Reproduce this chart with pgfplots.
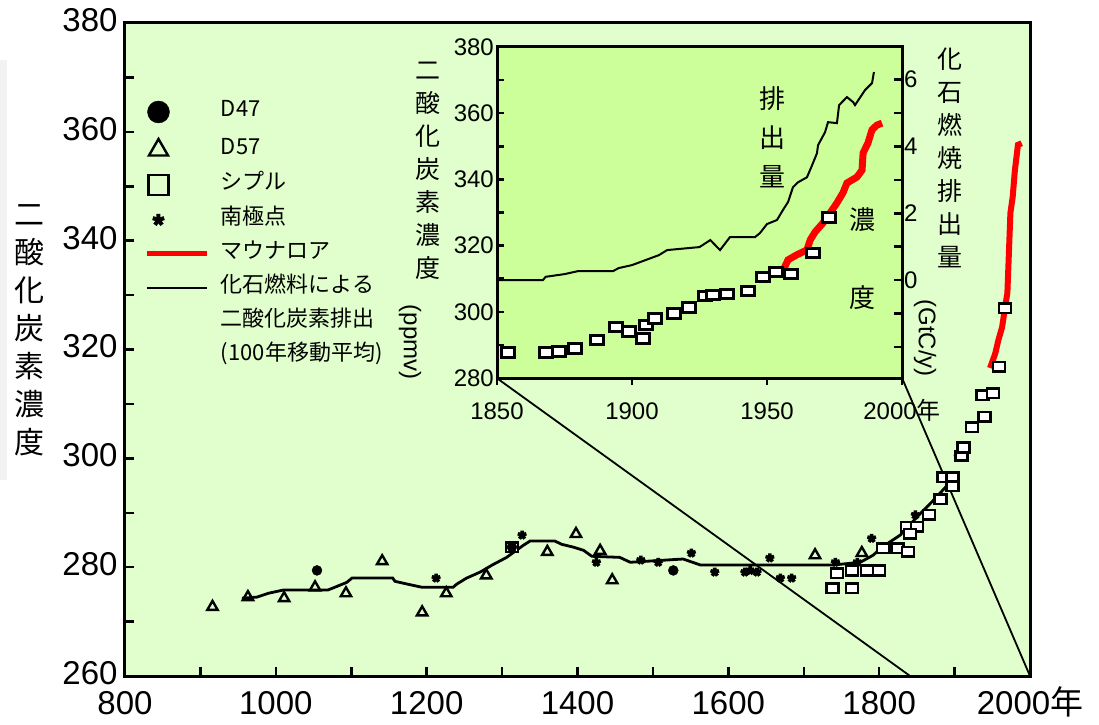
\documentclass[border=0pt]{standalone}
\usepackage{pgfplots}
\pgfplotsset{compat=1.18}
\usepackage{fontspec}
\setmainfont{Liberation Sans}
\newfontfamily\jp{Noto Sans CJK JP}
\definecolor{maingreen}{RGB}{224,255,204}
\definecolor{insetgreen}{RGB}{204,255,153}
\pgfplotsset{
  markleg/.style={legend image code/.code={\draw[##1] plot coordinates {(11pt,0pt)};}},
  lineleg/.style={legend image code/.code={\draw[##1] (0pt,0pt) -- (60pt,0pt);}},
}
\begin{document}
\begin{tikzpicture}
\useasboundingbox (-125pt,-48pt) rectangle (974pt,676pt);
\fill[black!5] (-125pt,196pt) rectangle (-118pt,616pt);
% ---------------- main axis ----------------
\begin{axis}[
  at={(0pt,0pt)}, anchor=south west, scale only axis,
  width=905pt, height=653pt,
  xmin=800, xmax=2000, ymin=260, ymax=380,
  axis background/.style={fill=maingreen},
  axis line style={line width=3pt},
  tick pos=left, tick align=inside,
  major tick length=9pt, minor tick length=9pt,
  every major tick/.style={black, line width=2.5pt},
  every minor tick/.style={black, line width=2.5pt},
  xtick={800,1000,...,2000}, minor xtick={900,1100,...,1900},
  xticklabels={800,1000,1200,1400,1600,1800,{2000{\jp 年}}},
  ytick={260,280,...,380}, minor ytick={270,290,...,370},
  yticklabels={260,280,300,320,340,360,380},
  tick label style={font=\fontsize{33}{36}\selectfont},
  xticklabel style={anchor=base, yshift=-38pt},
  yticklabel style={yshift=3pt, xshift=-4pt},
  legend cell align=left,
  legend style={at={(0.0221,0.8806)}, anchor=north west, draw=none, fill=none,
    inner sep=0pt, outer sep=0pt, row sep=16pt,
    nodes={inner sep=0pt, text height=14pt, text depth=4pt, font=\jp\fontsize{22}{22}\selectfont},
    /tikz/every odd column/.style={column sep=11pt}},
]
% zoom lines
\addplot[black, line width=1.8pt, forget plot] coordinates {(1293.4,314.7) (1841,260)};
\addplot[black, line width=1.8pt, forget plot] coordinates {(1830.5,314.7) (2000,260)};
% 100-year moving average line
\addplot[black, line width=2.8pt, forget plot] coordinates {
(955,274.3)(975,274.5)(990,275.2)(1010,275.8)(1069,275.8)(1078,276.3)(1094,277.2)
(1101,278)(1155,278)(1158,277.4)(1174,276.9)(1194,276.3)(1235,276.3)(1240,276.9)
(1253,278)(1271,279.1)(1287,280.4)(1306,281.8)(1328,284)(1337,284.8)(1370,284.8)
(1379,284.2)(1394,283.7)(1408,283.1)(1419,282)(1456,281.8)(1470,280.9)(1540,281.5)
(1563,280.4)(1739,280.4)(1775,280.9)(1792,282.2)(1804,283.7)(1828,285.9)(1850,289.2)
(1872,292.3)(1888,294.7)(1900,297)};
% Mauna Loa
\addplot[red, line width=6pt, forget plot] coordinates {
(1947,316.6)(1954,319.3)(1958,321.7)(1963,324.1)(1967,327.8)(1970,330.4)(1972,337.7)
(1974,345.1)(1977,348)(1980,353)(1984,357.6)(1989,357.9)};
% D57 triangles
\addplot[only marks, mark=triangle, mark size=6pt, mark options={black, line width=2.4pt}, forget plot] coordinates {
(916,272.7)(963,274.5)(1011,274.3)(1052,276.3)(1093,275.2)(1141,281.1)(1194,271.7)
(1226,275.2)(1279,278.5)(1360,282.8)(1398,286.1)(1430,283)(1446,277.6)(1715,282.2)(1777,282.6)};
% South Pole
\addplot[only marks, mark=star, mark size=4.5pt, mark options={black, line width=3.6pt}, forget plot] coordinates {
(1212.5,278)(1326.5,285.9)(1425,280.9)(1484,281.3)(1507,280.9)(1551,282.6)(1582,279.1)
(1622,279.1)(1629,279.4)(1638,279.1)(1655,281.7)(1669,278)(1684,278)(1742,280.9)
(1771,280.9)(1790,285.3)(1848,289.6)(1905,300.5)(1922,305.5)};
% Siple squares
\addplot[only marks, mark=square*, mark size=6pt, mark options={fill=white, draw=black, line width=2.6pt, yscale=0.8}, forget plot] coordinates {
(1313,283.7)(1738,276.1)(1744,278.9)(1764,276.1)(1764,279.4)(1784,279.4)(1800,279.4)
(1805,283.5)(1824,283.5)(1838,282.8)(1837,287.4)(1850,287.4)(1841,286.1)(1866,289.6)
(1881,292.5)(1885,296.5)(1897,296.5)(1897,294.9)(1909,300.5)(1912,302)(1923,305.7)
(1940,307.6)(1937,311.6)(1951,312)(1959,316.8)(1967,327.6)};
% D47 circles
\addplot[only marks, mark=*, mark size=5pt, mark options={black}, forget plot] coordinates {
(1054.6,279.4)(1313,283.7)(1527,279.4)};
% legend
\addlegendimage{only marks, mark=*, mark size=11pt, mark options={black}, markleg}
\addlegendentry{D47}
\addlegendimage{only marks, mark=triangle, mark size=11pt, mark options={black, line width=2.4pt}, markleg}
\addlegendentry{D57}
\addlegendimage{only marks, mark=square, mark size=10pt, mark options={black, line width=2.8pt}, markleg}
\addlegendentry{シプル}
\addlegendimage{only marks, mark=star, mark size=6pt, mark options={black, line width=4pt}, markleg}
\addlegendentry{南極点}
\addlegendimage{red, line width=5pt, lineleg}
\addlegendentry{マウナロア}
\addlegendimage{black, line width=2.8pt, lineleg}
\addlegendentry{化石燃料による}
\addlegendimage{empty legend}
\addlegendentry{二酸化炭素排出}
\addlegendimage{empty legend}
\addlegendentry{(100年移動平均)}
\end{axis}
% ---------------- inset, left axis ----------------
\begin{axis}[
  at={(372pt,298pt)}, anchor=south west, scale only axis,
  width=405pt, height=331pt,
  xmin=1850, xmax=2000, ymin=280, ymax=380,
  axis background/.style={fill=insetgreen},
  axis line style={line width=3pt},
  tick pos=left, ytick align=inside, xtick align=outside,
  major tick length=7pt, minor tick length=7pt,
  every major tick/.style={black, line width=2.5pt},
  every minor tick/.style={black, line width=2.5pt},
  xtick={1850,1900,1950,2000},
  xticklabels={1850,1900,1950,{2000{\jp 年}}},
  ytick={280,300,...,380}, minor ytick={290,310,...,370},
  yticklabels={280,300,320,340,360,380},
  tick label style={font=\fontsize{24}{26}\selectfont},
  yticklabel style={inner sep=3pt},
  xticklabel style={anchor=base, yshift=-34pt},
]
\addplot[red, line width=7pt] coordinates {
(1956,312.6)(1957.8,315.7)(1961,317.2)(1964.8,318.7)(1966,321.7)(1967.8,324.1)
(1970.7,326.8)(1973.3,329.8)(1975.9,332.9)(1978.1,335.9)(1979.6,338.9)(1983.3,340.7)
(1985.2,342.8)(1985.6,348)(1987.4,351)(1988.9,355)(1990.7,356.4)(1992.6,357)};
\addplot[only marks, mark=square*, mark size=6.5pt, mark options={fill=white, draw=black, line width=3pt, yscale=0.75}] coordinates {
(1854,287.6)(1868,287.6)(1873,288)(1879,289)(1887,291.5)(1894,295.4)(1899,294)
(1904,292)(1905,296)(1908.5,298)(1915.5,299.6)(1921,301.4)(1927,304.8)(1930,305.1)
(1935,305.4)(1943,306.3)(1948.5,310.5)(1953.3,312)(1958.9,311.4)(1967,317.8)(1973,328.6)};
\end{axis}
% ---------------- inset, right axis ----------------
\begin{axis}[
  at={(372pt,298pt)}, anchor=south west, scale only axis,
  width=405pt, height=331pt,
  xmin=1850, xmax=2000, ymin=-2.93, ymax=6.98,
  hide x axis,
  axis line style={line width=3pt},
  ytick pos=right, yticklabel pos=right, tick align=inside,
  major tick length=8pt, minor tick length=8pt,
  every major tick/.style={black, line width=2.5pt},
  every minor tick/.style={black, line width=2.5pt},
  ytick={0,2,4,6}, minor ytick={-2,-1,1,3,5},
  yticklabels={0,2,4,6},
  tick label style={font=\fontsize{24}{26}\selectfont},
  yticklabel style={inner sep=2pt},
]
\addplot[black, line width=2pt] coordinates {
(1850,0)(1867,0)(1868,0.1)(1875,0.18)(1880,0.27)(1893,0.27)(1895,0.36)(1900,0.45)
(1905,0.6)(1910,0.75)(1913,0.9)(1925,0.99)(1929,1.2)(1932.6,0.9)(1936.3,1.29)
(1945.6,1.29)(1947.4,1.41)(1950,1.68)(1953.7,1.8)(1955.9,2.1)(1957.8,2.34)(1959.6,2.78)
(1961.5,2.93)(1964.8,3.08)(1966.7,3.44)(1968.5,3.8)(1968.9,4.04)(1971.5,4.43)
(1972.6,4.73)(1975.9,4.7)(1976.7,5.24)(1979.6,5.48)(1981.9,5.33)(1982.6,5.24)
(1986.3,5.69)(1988.9,5.9)(1989.6,6.23)};
\end{axis}
% ---------------- texts ----------------
\node[font=\jp\fontsize{30}{38}\selectfont, align=center] at (-95pt,346pt) {二\\酸\\化\\炭\\素\\濃\\度};
\node[font=\jp\fontsize{25}{33}\selectfont, align=center] at (303pt,505pt) {二\\酸\\化\\炭\\素\\濃\\度};
\node[font=\fontsize{24}{26}\selectfont, rotate=-90] at (285pt,334pt) {(ppmv)};
\node[font=\jp\fontsize{25}{33}\selectfont, align=center] at (825pt,518pt) {化\\石\\燃\\焼\\排\\出\\量};
\node[font=\fontsize{24}{26}\selectfont, rotate=-90] at (800pt,338pt) {(GtC/y)};
\node[font=\jp\fontsize{26}{39}\selectfont, align=center] at (647pt,539pt) {排\\出\\量};
\node[font=\jp\fontsize{26}{26}\selectfont] at (737pt,456pt) {濃};
\node[font=\jp\fontsize{26}{26}\selectfont] at (737pt,378pt) {度};
\end{tikzpicture}
\end{document}
